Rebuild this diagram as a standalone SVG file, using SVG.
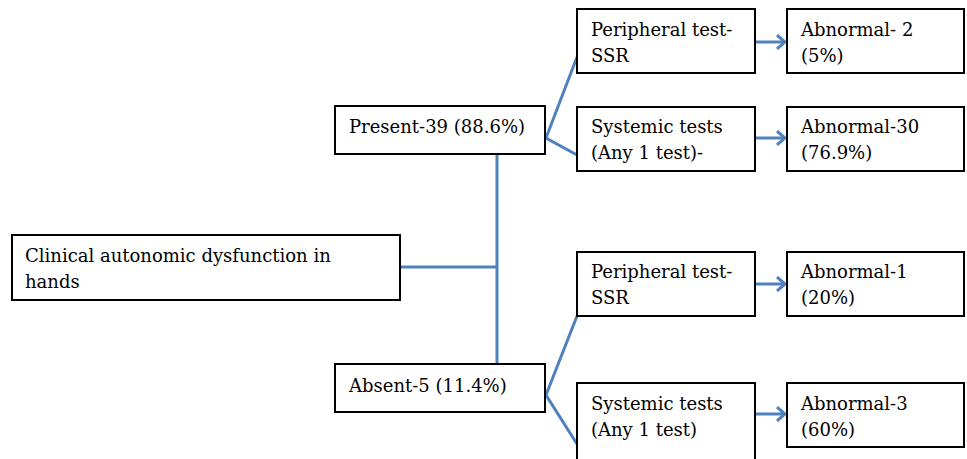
<svg xmlns="http://www.w3.org/2000/svg" width="967" height="459" viewBox="0 0 967 459">
<defs>
<style>
.box{fill:#fff;stroke:#000;stroke-width:2}
.t{font-family:"DejaVu Serif","Liberation Serif",serif;font-size:18px;fill:#000}
.c{fill:none;stroke:#4F81BD;stroke-width:3}
</style>
<marker id="ah" viewBox="0 0 12 16" refX="10" refY="8" markerWidth="12" markerHeight="16" markerUnits="userSpaceOnUse" orient="auto">
<path d="M2,1 L10,8 L2,15" fill="none" stroke="#4F81BD" stroke-width="3"/>
</marker>
</defs>
<rect width="967" height="459" fill="#fff"/>
<g id="connectors">
<path class="c" d="M400,267 H497"/>
<path class="c" d="M497,154 V364"/>
<path class="c" d="M577,57 L546,138 L577,155"/>
<path class="c" d="M577,316 L546,395 L577,444"/>
<path class="c" d="M756,42 H785" marker-end="url(#ah)"/>
<path class="c" d="M756,138 H785" marker-end="url(#ah)"/>
<path class="c" d="M756,284 H785" marker-end="url(#ah)"/>
<path class="c" d="M756,414 H785" marker-end="url(#ah)"/>
</g>
<g id="root">
<rect class="box" x="12" y="235" width="388" height="65"/>
<text class="t" x="25" y="262">Clinical autonomic dysfunction in</text>
<text class="t" x="25" y="288">hands</text>
</g>
<g id="present">
<rect class="box" x="335" y="106" width="210" height="48"/>
<text class="t" x="349" y="133">Present-39 (88.6%)</text>
</g>
<g id="absent">
<rect class="box" x="335" y="364" width="210" height="48"/>
<text class="t" x="349" y="392">Absent-5 (11.4%)</text>
</g>
<g id="peripheral1">
<rect class="box" x="577" y="9" width="178" height="64"/>
<text class="t" x="591" y="36">Peripheral test-</text>
<text class="t" x="591" y="62">SSR</text>
</g>
<g id="systemic1">
<rect class="box" x="577" y="107" width="178" height="64"/>
<text class="t" x="591" y="133">Systemic tests</text>
<text class="t" x="591" y="159">(Any 1 test)-</text>
</g>
<g id="abnormal1">
<rect class="box" x="787" y="9" width="177" height="64"/>
<text class="t" x="801" y="36">Abnormal- 2</text>
<text class="t" x="801" y="62">(5%)</text>
</g>
<g id="abnormal2">
<rect class="box" x="787" y="107" width="177" height="64"/>
<text class="t" x="801" y="133">Abnormal-30</text>
<text class="t" x="801" y="159">(76.9%)</text>
</g>
<g id="peripheral2">
<rect class="box" x="577" y="252" width="178" height="64"/>
<text class="t" x="591" y="278">Peripheral test-</text>
<text class="t" x="591" y="304">SSR</text>
</g>
<g id="systemic2">
<rect class="box" x="577" y="383" width="178" height="90"/>
<text class="t" x="591" y="410">Systemic tests</text>
<text class="t" x="591" y="436">(Any 1 test)</text>
</g>
<g id="abnormal3">
<rect class="box" x="787" y="252" width="177" height="64"/>
<text class="t" x="801" y="278">Abnormal-1</text>
<text class="t" x="801" y="304">(20%)</text>
</g>
<g id="abnormal4">
<rect class="box" x="787" y="383" width="177" height="64"/>
<text class="t" x="801" y="410">Abnormal-3</text>
<text class="t" x="801" y="436">(60%)</text>
</g>
</svg>
